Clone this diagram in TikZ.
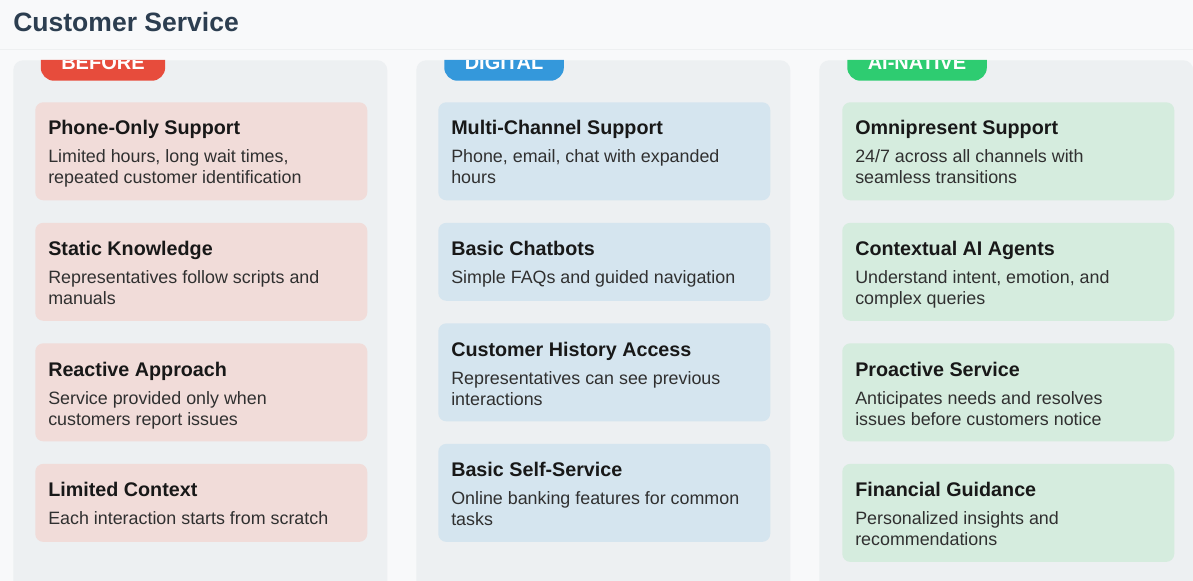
\documentclass[tikz,border=0pt]{standalone}
\usepackage{fontspec}
\setmainfont{Liberation Sans}
\usetikzlibrary{positioning,calc}
\definecolor{pagebg}{RGB}{248,249,250}
\definecolor{headline}{RGB}{238,240,241}
\definecolor{colbg}{RGB}{237,240,242}
\definecolor{headtext}{RGB}{44,62,80}
\definecolor{pillred}{RGB}{231,76,60}
\definecolor{pillblue}{RGB}{52,152,219}
\definecolor{pillgreen}{RGB}{46,204,113}
\definecolor{cardred}{RGB}{241,220,217}
\definecolor{cardblue}{RGB}{213,229,239}
\definecolor{cardgreen}{RGB}{213,236,222}
\definecolor{titletext}{RGB}{24,24,24}
\definecolor{desctext}{RGB}{48,48,48}
\tikzset{
    heading/.style={anchor=base west, inner sep=0, text=headtext,
        font=\fontsize{19.9}{22}\selectfont\bfseries},
    column/.style={anchor=north west, fill=colbg, inner sep=0,
        rounded corners=7.5pt, minimum width=280.5pt, minimum height=420pt},
    pill/.style={anchor=south west, inner xsep=15.4pt, inner ysep=0,
        minimum height=27pt, rounded corners=10pt, text=white,
        font=\fontsize{15}{16}\selectfont\bfseries},
    card/.style={anchor=north west, inner sep=0, rounded corners=6pt,
        minimum width=249pt},
    cardtall/.style={card, minimum height=73.5pt},
    cardshort/.style={card, minimum height=58.5pt},
    cardtitle/.style={anchor=base west, inner sep=0, text=titletext,
        font=\fontsize{14.8}{17}\selectfont\bfseries},
    % base anchor sits on the last line of the text
    carddesc/.style={anchor=base west, inner sep=0, align=left, text=desctext,
        font=\fontsize{13.4}{15.75}\selectfont},
}

\begin{document}
\begin{tikzpicture}[x=0.75pt, y=-0.75pt]
\useasboundingbox (0,0) rectangle (1193,581);
\clip (0,0) rectangle (1193,581);
\fill[pagebg] (0,0) rectangle (1193,581);
\draw[headline, line width=0.75pt] (0,50) -- (1193,50);
\node[heading] (head) at (13,31.5) {Customer Service};

% columns
\node[column] (colbefore) at (13,60) {};
\node[column] (coldigital) at (416,60) {};
\node[column] (colai) at (819,60) {};

% stage pills, cut off by the column tops
\begin{scope}
\clip[rounded corners=7.5pt] (colbefore.north west) rectangle (colbefore.south east);
\node[pill, fill=pillred] (pillbefore) at (40.5,81) {BEFORE};
\end{scope}
\begin{scope}
\clip[rounded corners=7.5pt] (coldigital.north west) rectangle (coldigital.south east);
\node[pill, fill=pillblue] (pilldigital) at (444,81) {DIGITAL};
\end{scope}
\begin{scope}
\clip[rounded corners=7.5pt] (colai.north west) rectangle (colai.south east);
\node[pill, fill=pillgreen] (pillai) at (847,81) {AI-NATIVE};
\end{scope}

% before
\node[cardtall, fill=cardred] (b1) at (35,102) {};
\node[cardtall, fill=cardred, below=16.5pt of b1.south west, anchor=north west] (b2) {};
\node[cardtall, fill=cardred, below=16.5pt of b2.south west, anchor=north west] (b3) {};
\node[cardshort, fill=cardred, below=16.5pt of b3.south west, anchor=north west] (b4) {};
\node[cardtitle] (b1t) at ($(b1.north west)+(13,33)$) {Phone-Only Support};
\node[carddesc] (b1d) at ($(b1.north west)+(13,82)$) {Limited hours, long wait times,\\repeated customer identification};
\node[cardtitle] (b2t) at ($(b2.north west)+(13,33)$) {Static Knowledge};
\node[carddesc] (b2d) at ($(b2.north west)+(13,82)$) {Representatives follow scripts and\\manuals};
\node[cardtitle] (b3t) at ($(b3.north west)+(13,33)$) {Reactive Approach};
\node[carddesc] (b3d) at ($(b3.north west)+(13,82)$) {Service provided only when\\customers report issues};
\node[cardtitle] (b4t) at ($(b4.north west)+(13,33)$) {Limited Context};
\node[carddesc] (b4d) at ($(b4.north west)+(13,61)$) {Each interaction starts from scratch};

% digital
\node[cardtall, fill=cardblue] (d1) at (438,102) {};
\node[cardshort, fill=cardblue, below=16.5pt of d1.south west, anchor=north west] (d2) {};
\node[cardtall, fill=cardblue, below=16.5pt of d2.south west, anchor=north west] (d3) {};
\node[cardtall, fill=cardblue, below=16.5pt of d3.south west, anchor=north west] (d4) {};
\node[cardtitle] (d1t) at ($(d1.north west)+(13,33)$) {Multi-Channel Support};
\node[carddesc] (d1d) at ($(d1.north west)+(13,82)$) {Phone, email, chat with expanded\\hours};
\node[cardtitle] (d2t) at ($(d2.north west)+(13,33)$) {Basic Chatbots};
\node[carddesc] (d2d) at ($(d2.north west)+(13,61)$) {Simple FAQs and guided navigation};
\node[cardtitle] (d3t) at ($(d3.north west)+(13,33)$) {Customer History Access};
\node[carddesc] (d3d) at ($(d3.north west)+(13,82)$) {Representatives can see previous\\interactions};
\node[cardtitle] (d4t) at ($(d4.north west)+(13,33)$) {Basic Self-Service};
\node[carddesc] (d4d) at ($(d4.north west)+(13,82)$) {Online banking features for common\\tasks};

% ai-native
\node[cardtall, fill=cardgreen] (a1) at (842,102) {};
\node[cardtall, fill=cardgreen, below=16.5pt of a1.south west, anchor=north west] (a2) {};
\node[cardtall, fill=cardgreen, below=16.5pt of a2.south west, anchor=north west] (a3) {};
\node[cardtall, fill=cardgreen, below=16.5pt of a3.south west, anchor=north west] (a4) {};
\node[cardtitle] (a1t) at ($(a1.north west)+(13,33)$) {Omnipresent Support};
\node[carddesc] (a1d) at ($(a1.north west)+(13,82)$) {24/7 across all channels with\\seamless transitions};
\node[cardtitle] (a2t) at ($(a2.north west)+(13,33)$) {Contextual AI Agents};
\node[carddesc] (a2d) at ($(a2.north west)+(13,82)$) {Understand intent, emotion, and\\complex queries};
\node[cardtitle] (a3t) at ($(a3.north west)+(13,33)$) {Proactive Service};
\node[carddesc] (a3d) at ($(a3.north west)+(13,82)$) {Anticipates needs and resolves\\issues before customers notice};
\node[cardtitle] (a4t) at ($(a4.north west)+(13,33)$) {Financial Guidance};
\node[carddesc] (a4d) at ($(a4.north west)+(13,82)$) {Personalized insights and\\recommendations};
\end{tikzpicture}
\end{document}
